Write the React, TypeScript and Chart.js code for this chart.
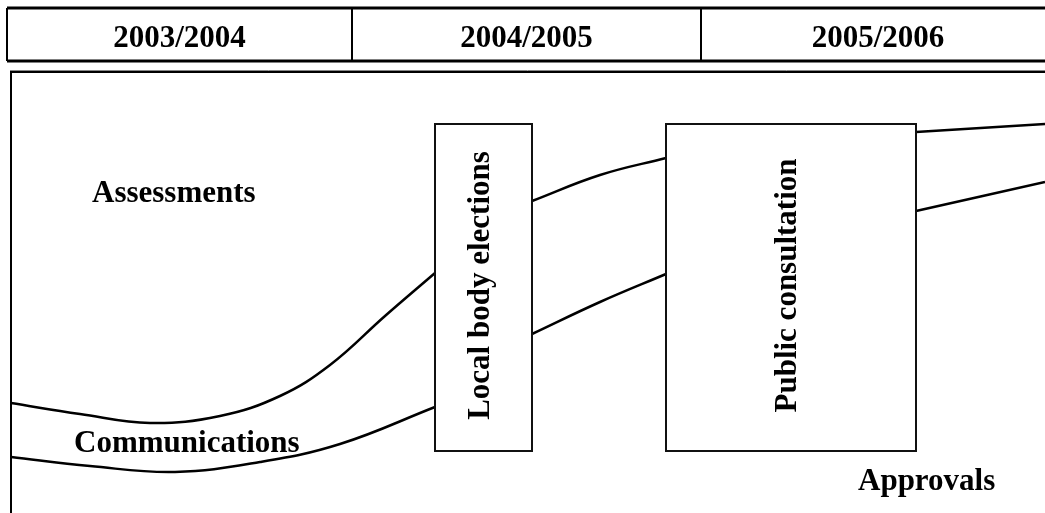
import React, { useEffect, useRef } from "react";
import { Chart, registerables } from "chart.js";

Chart.register(...registerables);

// Header periods and their column edges (x units)
const periods = ["2003/2004", "2004/2005", "2005/2006"];
const periodEdges = [7, 352, 701, 1055];
const headerTop = 8;
const headerBottom = 61;

// Frame of the timeline
const frameTop = 72;
const frameLeft = 11;

// Phase boxes
const phaseLabels = ["Local body elections", "Public consultation"];
const phaseStart = [435, 666];
const phaseEnd = [532, 916];
const phaseTop = 124;
const phaseBottom = 451;

// Stream labels
const streamLabels = ["Assessments", "Communications", "Approvals"];
const streamX = [92, 74, 858];
const streamY = [202, 452, 490];

// Upper stream boundary (null breaks where the boxes interrupt)
const upperX = [11, 80, 150, 220, 280, 330, 385, 435, 480, 532, 600, 666, 790, 916, 1045];
const upperY: (number | null)[] = [403, 414, 423, 416, 396, 365, 316, 273, null, 201, 175, 158, null, 132, 124];

// Lower stream boundary
const lowerX = [11, 90, 175, 260, 340, 435, 480, 532, 600, 666, 790, 916, 1045];
const lowerY: (number | null)[] = [457, 466, 472, 462, 444, 407, null, 334, 302, 274, null, 211, 182];

const FONT = 'bold 31px "Liberation Serif", "Times New Roman", serif';

const diagramPlugin = {
  id: "diagram",
  afterDatasetsDraw(chart: any) {
    const { ctx, scales } = chart;
    const xs = scales.x;
    const ys = scales.y;
    const X = (v: number) => xs.getPixelForValue(v);
    const Y = (v: number) => ys.getPixelForValue(v);
    ctx.save();

    // Header table
    ctx.strokeStyle = "#000";
    ctx.lineWidth = 3;
    ctx.beginPath();
    ctx.moveTo(X(periodEdges[0]), Y(headerTop));
    ctx.lineTo(X(periodEdges[periodEdges.length - 1]), Y(headerTop));
    ctx.moveTo(X(periodEdges[0]), Y(headerBottom));
    ctx.lineTo(X(periodEdges[periodEdges.length - 1]), Y(headerBottom));
    ctx.stroke();
    ctx.lineWidth = 2;
    ctx.beginPath();
    for (let i = 0; i < periodEdges.length; i++) {
      ctx.moveTo(X(periodEdges[i]), Y(headerTop));
      ctx.lineTo(X(periodEdges[i]), Y(headerBottom));
    }
    ctx.stroke();
    ctx.fillStyle = "#000";
    ctx.font = FONT;
    ctx.textAlign = "center";
    ctx.textBaseline = "alphabetic";
    for (let i = 0; i < periods.length; i++) {
      const cx = (X(periodEdges[i]) + X(periodEdges[i + 1])) / 2;
      ctx.fillText(periods[i], cx, Y(47));
    }

    // Frame
    ctx.strokeStyle = "#888";
    ctx.lineWidth = 1;
    ctx.beginPath();
    ctx.moveTo(X(frameLeft - 1), Y(frameTop - 1.5));
    ctx.lineTo(X(1045), Y(frameTop - 1.5));
    ctx.stroke();
    ctx.strokeStyle = "#000";
    ctx.lineWidth = 2;
    ctx.beginPath();
    ctx.moveTo(X(frameLeft), Y(513));
    ctx.lineTo(X(frameLeft), Y(frameTop));
    ctx.lineTo(X(1045), Y(frameTop));
    ctx.stroke();

    // Phase boxes
    for (let i = 0; i < phaseLabels.length; i++) {
      const x0 = X(phaseStart[i]);
      const x1 = X(phaseEnd[i]);
      const y0 = Y(phaseTop);
      const y1 = Y(phaseBottom);
      ctx.strokeStyle = "#111";
      ctx.lineWidth = 2;
      ctx.strokeRect(x0, y0, x1 - x0, y1 - y0);
      ctx.save();
      ctx.translate((x0 + x1) / 2 + 5, (y0 + y1) / 2 - 2);
      ctx.rotate(-Math.PI / 2);
      ctx.font = FONT;
      ctx.fillStyle = "#000";
      ctx.textAlign = "center";
      ctx.textBaseline = "alphabetic";
      ctx.fillText(phaseLabels[i], 0, 0);
      ctx.restore();
    }

    // Stream labels
    ctx.font = FONT;
    ctx.fillStyle = "#000";
    ctx.textAlign = "left";
    ctx.textBaseline = "alphabetic";
    for (let i = 0; i < streamLabels.length; i++) {
      ctx.fillText(streamLabels[i], X(streamX[i]), Y(streamY[i]));
    }
    ctx.restore();
  },
};

export default function App() {
  const ref = useRef<HTMLCanvasElement>(null);
  useEffect(() => {
    if (!ref.current) return;
    const upper = upperX.map((x, i) => ({ x, y: upperY[i] }));
    const lower = lowerX.map((x, i) => ({ x, y: lowerY[i] }));
    const common = {
      borderColor: "#000",
      borderWidth: 2.5,
      pointRadius: 0,
      tension: 0.4,
      spanGaps: false,
      clip: false as any,
    };
    const chart = new Chart(ref.current, {
      type: "line",
      data: {
        datasets: [
          { label: "upper", data: upper as any, ...common },
          { label: "lower", data: lower as any, ...common },
        ],
      },
      options: {
        responsive: false,
        animation: false,
        devicePixelRatio: 1,
        layout: { padding: 0 },
        plugins: { legend: { display: false }, tooltip: { enabled: false } },
        scales: {
          x: { type: "linear", min: 0, max: 1045, display: false },
          y: { type: "linear", min: 0, max: 513, reverse: true, display: false },
        },
      },
      plugins: [diagramPlugin],
    });
    return () => chart.destroy();
  }, []);
  return (
    <div style={{ position: "absolute", left: 0, top: 0, width: 1045, height: 513, background: "#fff" }}>
      <canvas ref={ref} width={1045} height={513} style={{ display: "block" }} />
    </div>
  );
}
